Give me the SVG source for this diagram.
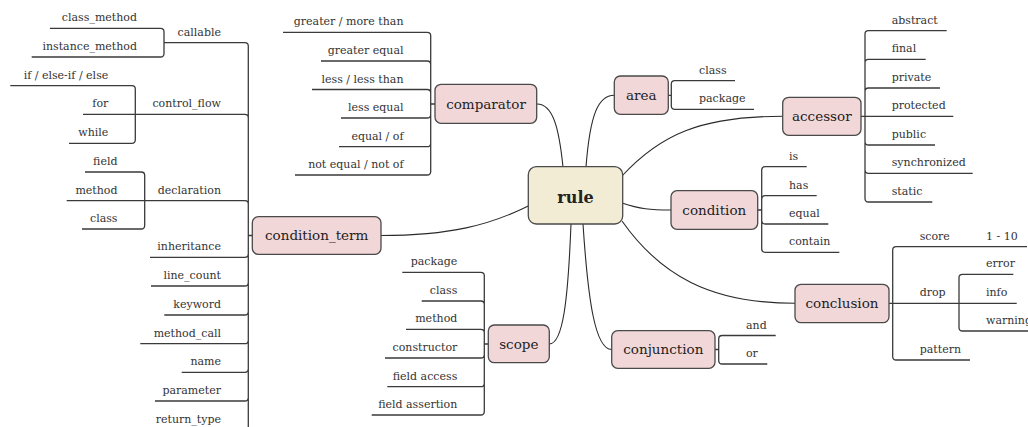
<svg xmlns="http://www.w3.org/2000/svg" width="1028" height="427" viewBox="0 0 1028 427">
  <style>
    .box { fill: #f2d7d9; stroke: #4a4a4a; stroke-width: 1.3; }
    .root { fill: #f2ecd5; stroke: #4a4a4a; stroke-width: 1.3; }
    .lbl { font-family: "DejaVu Serif", "Liberation Serif", serif; font-size: 13.5px; fill: #222; text-anchor: middle; }
    .rootlbl { font-family: "DejaVu Serif", "Liberation Serif", serif; font-size: 16px; font-weight: bold; fill: #222; text-anchor: middle; }
    .leaf { font-family: "DejaVu Serif", "Liberation Serif", serif; font-size: 11px; fill: #333; }
    .l { text-anchor: end; }
    .r { text-anchor: start; }
    .edge { fill: none; stroke: #2a2a2a; stroke-width: 1.1; }
    .br { fill: none; stroke: #3a3a3a; stroke-width: 1.3; }
  </style>

  <!-- connectors -->
  <g id="connectors">
    <!-- root to first-level nodes -->
    <path class="edge" d="M563,167 C559,128 553,104 537,104"/>
    <path class="edge" d="M586,167 C590,115 598,95.3 614.3,95.3"/>
    <path class="edge" d="M622,176 C660,135 700,116.3 782.7,116.3"/>
    <path class="edge" d="M622,203 C640,209 650,210 671,210"/>
    <path class="edge" d="M622,221 C660,275 710,303.3 795,303.3"/>
    <path class="edge" d="M571,224 C568,300 563,344 549.3,344"/>
    <path class="edge" d="M583,224 C588,300 595,349.5 611.7,349.5"/>
    <path class="edge" d="M528.3,206 C490,225 450,235.5 381,235.5"/>

    <!-- comparator -->
    <path class="br" d="M283,32.3 H427.2 Q430.7,32.3 430.7,35.8 M321,61 H427.2 Q430.7,61 430.7,64.5 M312,89.5 H427.2 Q430.7,89.5 430.7,93 M341,118 H427.2 Q430.7,118 430.7,114.5 M339,146.7 H427.2 Q430.7,146.7 430.7,143.2 M295,175 H427.2 Q430.7,175 430.7,171.5 M430.7,35.8 V171.5 M430.7,104 H435"/>

    <!-- condition_term -->
    <path class="br" d="M164,42.7 H244.8 Q248.3,42.7 248.3,46.2 M135.3,114.3 H244.8 Q248.3,114.3 248.3,117.8 M144.7,200.7 H244.8 Q248.3,200.7 248.3,204.2 M150,257.3 H244.8 Q248.3,257.3 248.3,253.8 M151,286 H244.8 Q248.3,286 248.3,282.5 M164.3,315 H244.8 Q248.3,315 248.3,311.5 M140.3,343.7 H244.8 Q248.3,343.7 248.3,340.2 M181.7,372.3 H244.8 Q248.3,372.3 248.3,368.8 M155,401 H244.8 Q248.3,401 248.3,397.5 M154,429.7 H244.8 Q248.3,429.7 248.3,426.2 M248.3,46.2 V430 M248.3,235.5 H252.3"/>
    <!-- callable -->
    <path class="br" d="M50,28.3 H160.5 Q164,28.3 164,31.8 M31.7,57 H160.5 Q164,57 164,53.5 M164,31.8 V53.5"/>
    <!-- control_flow -->
    <path class="br" d="M10.3,85.7 H131.8 Q135.3,85.7 135.3,89.2 M83,114.3 H135.3 M69,143.3 H131.8 Q135.3,143.3 135.3,139.8 M135.3,89.2 V139.8"/>
    <!-- declaration -->
    <path class="br" d="M85,172 H141.2 Q144.7,172 144.7,175.5 M66.7,200.7 H144.7 M82,229 H141.2 Q144.7,229 144.7,225.5 M144.7,175.5 V225.5"/>

    <!-- scope -->
    <path class="br" d="M402.3,272.3 H480.8 Q484.3,272.3 484.3,275.8 M421.7,301 H480.8 Q484.3,301 484.3,304.5 M406,329.3 H480.8 Q484.3,329.3 484.3,332.8 M385,358 H480.8 Q484.3,358 484.3,354.5 M387.3,386.7 H480.8 Q484.3,386.7 484.3,383.2 M371.7,415 H480.8 Q484.3,415 484.3,411.5 M484.3,275.8 V411.5 M484.3,344 H488.3"/>

    <!-- area -->
    <path class="br" d="M735,80.7 H674.8 Q671.3,80.7 671.3,84.2 M754,109.3 H674.8 Q671.3,109.3 671.3,105.8 M671.3,84.2 V105.8 M668.3,95.3 H671.3"/>

    <!-- accessor -->
    <path class="br" d="M946.7,30.7 H868.5 Q865,30.7 865,34.2 M925.7,59.3 H868.5 Q865,59.3 865,62.8 M940,88 H868.5 Q865,88 865,91.5 M953.3,116.3 H861 M935,145 H868.5 Q865,145 865,141.5 M972.7,173.3 H868.5 Q865,173.3 865,169.8 M932.3,202 H868.5 Q865,202 865,198.5 M865,34.2 V198.5"/>

    <!-- condition -->
    <path class="br" d="M806.7,166.7 H765.2 Q761.7,166.7 761.7,170.2 M816.7,195.7 H765.2 Q761.7,195.7 761.7,199.2 M828.3,224 H765.2 Q761.7,224 761.7,220.5 M839.3,252.3 H765.2 Q761.7,252.3 761.7,248.8 M761.7,170.2 V248.8 M757.7,210 H761.7"/>

    <!-- conjunction -->
    <path class="br" d="M775.7,335.5 H722.2 Q718.7,335.5 718.7,339 M767.3,364 H722.2 Q718.7,364 718.7,360.5 M718.7,339 V360.5 M715,349.5 H718.7"/>

    <!-- conclusion -->
    <path class="br" d="M1027,246.7 H896.2 Q892.7,246.7 892.7,250.2 M889,303.3 H1016.7 M970,360 H896.2 Q892.7,360 892.7,356.5 M892.7,250.2 V356.5"/>
    <!-- drop -->
    <path class="br" d="M1013.3,274.3 H962.5 Q959,274.3 959,277.8 M1040,331 H962.5 Q959,331 959,327.5 M959,277.8 V327.5"/>
  </g>

  <!-- root -->
  <g id="rule">
    <rect class="root" x="528.3" y="166.7" width="94.4" height="57.3" rx="8"/>
    <text class="rootlbl" x="575.5" y="203">rule</text>
  </g>

  <!-- first-level nodes -->
  <g id="comparator">
    <rect class="box" x="435" y="84.3" width="101.7" height="39" rx="6"/>
    <text class="lbl" x="486" y="109">comparator</text>
  </g>
  <g id="area">
    <rect class="box" x="614.3" y="76" width="54" height="38.3" rx="6"/>
    <text class="lbl" x="641.3" y="100">area</text>
  </g>
  <g id="accessor">
    <rect class="box" x="782.7" y="97.3" width="78.3" height="38" rx="6"/>
    <text class="lbl" x="821.8" y="121">accessor</text>
  </g>
  <g id="condition">
    <rect class="box" x="671" y="190.7" width="86.7" height="38.6" rx="6"/>
    <text class="lbl" x="714.3" y="214.5">condition</text>
  </g>
  <g id="condition_term">
    <rect class="box" x="252.3" y="216.7" width="128.7" height="37.6" rx="6"/>
    <text class="lbl" x="316.7" y="240">condition_term</text>
  </g>
  <g id="scope">
    <rect class="box" x="488.3" y="325" width="61" height="37.7" rx="6"/>
    <text class="lbl" x="518.8" y="348.5">scope</text>
  </g>
  <g id="conjunction">
    <rect class="box" x="611.7" y="330.7" width="103.3" height="37.6" rx="6"/>
    <text class="lbl" x="663.3" y="354">conjunction</text>
  </g>
  <g id="conclusion">
    <rect class="box" x="795" y="284.3" width="94" height="38.4" rx="6"/>
    <text class="lbl" x="842" y="308">conclusion</text>
  </g>

  <!-- comparator leaves -->
  <g id="comparator-leaves" class="leaf l">
    <text x="403.5" y="25.3">greater / more than</text>
    <text x="403.5" y="54">greater equal</text>
    <text x="403.5" y="82.5">less / less than</text>
    <text x="403.5" y="111">less equal</text>
    <text x="403.5" y="139.7">equal / of</text>
    <text x="403.5" y="168">not equal / not of</text>
  </g>

  <!-- condition_term branches -->
  <g id="condition_term-leaves" class="leaf l">
    <text x="221" y="35.7">callable</text>
    <text x="221" y="107.3">control_flow</text>
    <text x="221" y="193.7">declaration</text>
    <text x="221" y="250.3">inheritance</text>
    <text x="221" y="279">line_count</text>
    <text x="221" y="308">keyword</text>
    <text x="221" y="336.7">method_call</text>
    <text x="221" y="365.3">name</text>
    <text x="221" y="394">parameter</text>
    <text x="221" y="422.7">return_type</text>
  </g>
  <g id="callable-leaves" class="leaf l">
    <text x="137" y="21.3">class_method</text>
    <text x="137" y="50">instance_method</text>
  </g>
  <g id="control_flow-leaves" class="leaf l">
    <text x="108.3" y="78.7">if / else-if / else</text>
    <text x="108.3" y="107.3">for</text>
    <text x="108.3" y="136.3">while</text>
  </g>
  <g id="declaration-leaves" class="leaf l">
    <text x="117.5" y="165">field</text>
    <text x="117.5" y="193.7">method</text>
    <text x="117.5" y="222">class</text>
  </g>

  <!-- scope leaves -->
  <g id="scope-leaves" class="leaf l">
    <text x="457.3" y="265.3">package</text>
    <text x="457.3" y="294">class</text>
    <text x="457.3" y="322.3">method</text>
    <text x="457.3" y="351">constructor</text>
    <text x="457.3" y="379.7">field access</text>
    <text x="457.3" y="408">field assertion</text>
  </g>

  <!-- area leaves -->
  <g id="area-leaves" class="leaf r">
    <text x="699" y="73.7">class</text>
    <text x="699" y="102.3">package</text>
  </g>

  <!-- accessor leaves -->
  <g id="accessor-leaves" class="leaf r">
    <text x="891.7" y="23.7">abstract</text>
    <text x="891.7" y="52.3">final</text>
    <text x="891.7" y="81">private</text>
    <text x="891.7" y="109.3">protected</text>
    <text x="891.7" y="138">public</text>
    <text x="891.7" y="166.3">synchronized</text>
    <text x="891.7" y="195">static</text>
  </g>

  <!-- condition leaves -->
  <g id="condition-leaves" class="leaf r">
    <text x="789" y="159.7">is</text>
    <text x="789" y="188.7">has</text>
    <text x="789" y="217">equal</text>
    <text x="789" y="245.3">contain</text>
  </g>

  <!-- conjunction leaves -->
  <g id="conjunction-leaves" class="leaf r">
    <text x="746" y="328.5">and</text>
    <text x="746" y="357">or</text>
  </g>

  <!-- conclusion branches -->
  <g id="conclusion-leaves" class="leaf r">
    <text x="919.7" y="239.7">score</text>
    <text x="919.7" y="296.3">drop</text>
    <text x="919.7" y="353">pattern</text>
  </g>
  <g id="score-leaves" class="leaf r">
    <text x="986" y="239.7">1 - 10</text>
  </g>
  <g id="drop-leaves" class="leaf r">
    <text x="986" y="267.3">error</text>
    <text x="986" y="296.3">info</text>
    <text x="986" y="324">warning</text>
  </g>
</svg>
